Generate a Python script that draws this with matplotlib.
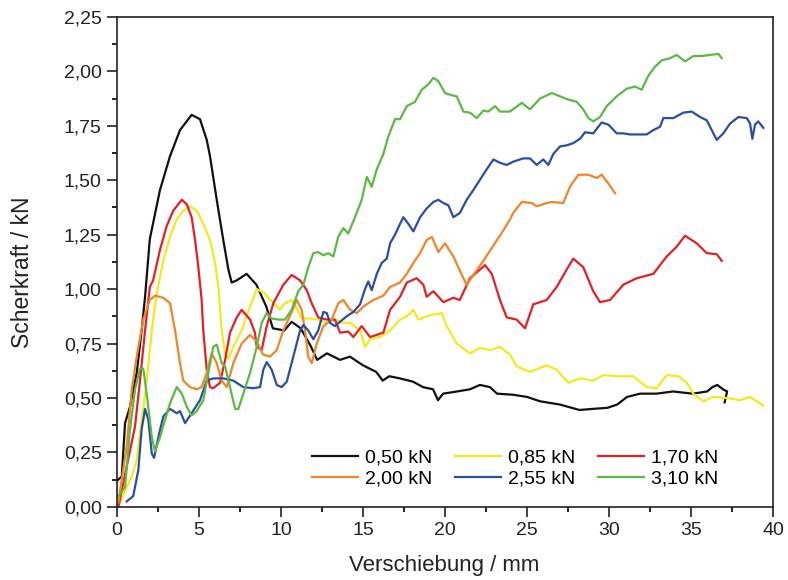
import matplotlib
matplotlib.use("Agg")
import matplotlib.pyplot as plt
from matplotlib.ticker import MultipleLocator, FuncFormatter

plt.rcParams['font.family'] = ['Liberation Sans', 'DejaVu Sans']

# Shear force vs. displacement for six normal loads
x_050 = [0.0, 0.29, 0.49, 0.79, 1.2, 1.5, 1.71, 2.0, 2.62, 3.23, 3.84, 4.55, 5.06, 5.47, 5.67,
         6.08, 6.48, 6.79, 6.99, 7.3, 7.9, 8.5, 9.1, 9.5, 10.2, 10.65, 11.2, 11.8, 12.2, 12.8,
         13.6, 14.2, 15.0, 15.8, 16.2, 16.6, 17.25, 18.05, 18.66, 19.27, 19.57, 19.88, 20.73,
         21.52, 22.13, 22.74, 23.17, 24.15, 25.0, 25.79, 27.0, 28.2, 29.0, 29.9, 30.5, 31.1,
         31.9, 32.9, 33.9, 35.1, 35.98, 36.3, 36.6, 36.95, 37.2, 37.05]
y_050 = [0.12, 0.14, 0.385, 0.46, 0.615, 0.81, 0.965, 1.23, 1.455, 1.61, 1.73, 1.80, 1.78, 1.685,
         1.61, 1.41, 1.225, 1.09, 1.03, 1.04, 1.07, 1.02, 0.92, 0.82, 0.81, 0.85, 0.82, 0.74,
         0.675, 0.705, 0.675, 0.69, 0.65, 0.62, 0.58, 0.60, 0.59, 0.575, 0.55, 0.54, 0.49, 0.52,
         0.53, 0.54, 0.56, 0.55, 0.52, 0.515, 0.505, 0.485, 0.47, 0.445, 0.45, 0.455, 0.47,
         0.505, 0.52, 0.52, 0.53, 0.52, 0.53, 0.55, 0.56, 0.54, 0.53, 0.48]

x_085 = [0.06, 0.59, 0.9, 1.2, 1.81, 2.12, 2.42, 2.82, 3.23, 3.64, 4.04, 4.45, 4.86, 5.26, 5.67,
         5.98, 6.18, 6.38, 6.59, 6.79, 7.09, 7.6, 8.11, 8.52, 9.02, 9.23, 9.63, 9.94, 10.14,
         10.65, 10.96, 11.26, 11.77, 12.27, 12.79, 13.29, 13.8, 14.21, 14.82, 15.12, 15.43,
         16.04, 16.65, 17.26, 17.67, 18.07, 18.37, 18.88, 19.09, 19.8, 20.1, 20.71, 21.52,
         22.13, 22.74, 23.35, 23.96, 24.37, 25.18, 26.2, 26.81, 27.52, 28.23, 29.04, 29.65,
         30.47, 31.48, 32.3, 32.91, 33.52, 34.23, 34.74, 35.14, 35.75, 36.36, 37.18, 37.99,
         38.6, 39.0, 39.41]
y_085 = [0.0, 0.09, 0.14, 0.215, 0.58, 0.81, 0.98, 1.13, 1.24, 1.32, 1.36, 1.38, 1.36, 1.30,
         1.225, 1.12, 1.01, 0.81, 0.705, 0.68, 0.735, 0.81, 0.92, 1.0, 0.98, 0.96, 0.93, 0.905,
         0.93, 0.95, 0.91, 0.865, 0.865, 0.86, 0.845, 0.86, 0.845, 0.845, 0.81, 0.735, 0.77,
         0.78, 0.81, 0.86, 0.875, 0.905, 0.86, 0.875, 0.88, 0.89, 0.83, 0.75, 0.705, 0.73, 0.72,
         0.735, 0.70, 0.645, 0.62, 0.65, 0.63, 0.57, 0.59, 0.58, 0.605, 0.60, 0.60, 0.55, 0.545,
         0.605, 0.60, 0.57, 0.52, 0.485, 0.505, 0.50, 0.49, 0.505, 0.485, 0.465]

x_170 = [0.08, 1.1, 1.4, 1.71, 2.0, 2.2, 2.62, 3.03, 3.43, 3.95, 4.25, 4.55, 4.76, 4.96, 5.16,
         5.26, 5.47, 5.67, 5.87, 6.28, 6.59, 6.89, 7.3, 7.6, 8.11, 8.41, 8.52, 8.82, 9.13, 9.53,
         10.14, 10.65, 11.16, 11.57, 11.87, 12.27, 12.79, 13.29, 13.6, 14.1, 14.41, 14.92,
         15.43, 16.24, 16.65, 17.26, 17.67, 18.27, 18.68, 18.88, 19.29, 19.9, 20.5, 20.9,
         21.52, 22.44, 22.85, 23.35, 23.76, 24.37, 24.88, 25.38, 26.2, 26.81, 27.42, 27.82,
         28.43, 29.04, 29.45, 30.06, 30.87, 31.69, 32.7, 33.52, 34.13, 34.63, 35.35, 35.96,
         36.57, 36.87]
y_170 = [0.0, 0.37, 0.58, 0.81, 1.01, 1.04, 1.18, 1.29, 1.36, 1.41, 1.39, 1.33, 1.225, 1.10,
         0.95, 0.81, 0.63, 0.55, 0.545, 0.57, 0.675, 0.80, 0.87, 0.905, 0.86, 0.80, 0.735, 0.72,
         0.83, 0.935, 1.02, 1.065, 1.04, 0.995, 0.935, 0.87, 0.86, 0.86, 0.80, 0.805, 0.78,
         0.83, 0.78, 0.80, 0.905, 0.965, 1.03, 1.05, 1.02, 0.965, 0.99, 0.94, 0.96, 0.95, 1.05,
         1.11, 1.07, 0.95, 0.87, 0.86, 0.82, 0.93, 0.95, 1.01, 1.09, 1.14, 1.10, 0.99, 0.94,
         0.95, 1.02, 1.05, 1.07, 1.15, 1.195, 1.245, 1.21, 1.165, 1.16, 1.13]

x_200 = [0.08, 0.59, 0.9, 1.2, 1.6, 2.0, 2.32, 2.82, 3.23, 3.54, 3.84, 4.04, 4.45, 4.86, 5.16,
         5.47, 5.77, 6.08, 6.38, 6.69, 7.09, 7.6, 8.11, 8.52, 8.9, 9.33, 9.74, 10.14, 10.65,
         10.96, 11.26, 11.46, 11.66, 11.87, 12.18, 12.58, 13.09, 13.49, 13.8, 14.21, 14.62,
         15.02, 15.63, 16.24, 16.65, 17.26, 17.67, 18.07, 18.48, 18.88, 19.2, 19.59, 20.0,
         20.51, 21.02, 21.32, 21.73, 22.34, 22.95, 23.56, 23.96, 24.16, 24.68, 25.29, 25.59,
         26.2, 26.51, 27.21, 27.62, 28.13, 28.74, 29.25, 29.55, 29.96, 30.37]
y_200 = [0.02, 0.28, 0.54, 0.69, 0.86, 0.95, 0.97, 0.96, 0.935, 0.81, 0.66, 0.58, 0.55, 0.54,
         0.55, 0.615, 0.705, 0.66, 0.58, 0.55, 0.66, 0.75, 0.79, 0.76, 0.70, 0.69, 0.72, 0.81,
         0.895, 0.95, 0.905, 0.81, 0.69, 0.66, 0.75, 0.83, 0.86, 0.935, 0.95, 0.905, 0.89, 0.92,
         0.95, 0.97, 1.01, 1.03, 1.07, 1.12, 1.165, 1.225, 1.24, 1.17, 1.21, 1.15, 1.065, 1.02,
         1.065, 1.13, 1.20, 1.27, 1.32, 1.35, 1.40, 1.395, 1.38, 1.395, 1.40, 1.395, 1.47,
         1.525, 1.525, 1.51, 1.525, 1.485, 1.44]

x_255 = [0.59, 0.99, 1.3, 1.5, 1.71, 1.91, 2.12, 2.26, 2.52, 2.82, 3.23, 3.64, 3.84, 4.15,
         4.55, 5.06, 5.47, 5.87, 6.48, 7.09, 7.7, 8.31, 8.72, 8.92, 9.13, 9.43, 9.74, 10.04,
         10.35, 10.75, 11.16, 11.36, 11.66, 11.97, 12.27, 12.58, 12.79, 12.99, 13.29, 13.6,
         14.0, 14.41, 14.82, 15.12, 15.32, 15.53, 15.84, 16.14, 16.45, 16.65, 16.95, 17.26,
         17.46, 17.76, 18.07, 18.48, 18.88, 19.29, 19.59, 19.9, 20.2, 20.51, 20.91, 21.32,
         21.73, 22.24, 22.54, 22.95, 23.35, 23.76, 24.16, 24.77, 25.18, 25.59, 25.99, 26.3,
         26.6, 27.01, 27.42, 27.82, 28.23, 28.54, 29.04, 29.55, 29.96, 30.47, 30.87, 31.28,
         32.3, 32.7, 33.11, 33.31, 33.92, 34.53, 35.04, 35.55, 35.96, 36.26, 36.57, 36.97,
         37.38, 37.89, 38.4, 38.6, 38.74, 38.9, 39.1, 39.41]
y_255 = [0.025, 0.05, 0.17, 0.355, 0.45, 0.40, 0.245, 0.225, 0.32, 0.415, 0.45, 0.43, 0.44,
         0.385, 0.43, 0.49, 0.58, 0.59, 0.59, 0.58, 0.55, 0.545, 0.55, 0.63, 0.665, 0.63, 0.56,
         0.55, 0.575, 0.69, 0.81, 0.835, 0.81, 0.77, 0.81, 0.895, 0.89, 0.845, 0.83, 0.85,
         0.875, 0.895, 0.93, 1.0, 1.035, 0.995, 1.07, 1.12, 1.14, 1.21, 1.25, 1.30, 1.33, 1.30,
         1.265, 1.33, 1.37, 1.40, 1.41, 1.395, 1.385, 1.33, 1.35, 1.41, 1.455, 1.515, 1.55,
         1.595, 1.58, 1.57, 1.585, 1.60, 1.60, 1.57, 1.595, 1.57, 1.62, 1.655, 1.66, 1.67,
         1.69, 1.72, 1.715, 1.765, 1.755, 1.715, 1.715, 1.71, 1.71, 1.73, 1.745, 1.785, 1.785,
         1.81, 1.815, 1.79, 1.775, 1.73, 1.685, 1.715, 1.76, 1.79, 1.785, 1.76, 1.69, 1.755,
         1.77, 1.74]

x_310 = [0.08, 0.49, 0.79, 1.1, 1.4, 1.6, 1.81, 2.12, 2.32, 2.62, 2.93, 3.23, 3.64, 3.95,
         4.25, 4.55, 4.86, 5.26, 5.57, 5.87, 6.08, 6.38, 6.59, 6.89, 7.2, 7.4, 7.7, 8.11, 8.52,
         8.82, 9.13, 9.43, 9.84, 10.24, 10.65, 11.05, 11.36, 11.66, 11.97, 12.27, 12.58, 12.88,
         13.19, 13.49, 13.8, 14.1, 14.51, 14.92, 15.23, 15.53, 15.84, 16.24, 16.54, 16.95,
         17.26, 17.67, 18.17, 18.58, 18.98, 19.29, 19.59, 20.0, 20.41, 20.71, 21.12, 21.52,
         21.93, 22.34, 22.64, 23.05, 23.35, 23.96, 24.68, 25.18, 25.79, 26.51, 27.01, 27.52,
         28.03, 28.43, 28.74, 29.04, 29.45, 29.86, 30.47, 31.08, 31.59, 31.99, 32.4, 32.8,
         33.21, 33.72, 34.13, 34.63, 35.14, 35.65, 36.16, 36.67, 36.87]
y_310 = [0.05, 0.09, 0.355, 0.54, 0.635, 0.635, 0.52, 0.32, 0.255, 0.32, 0.40, 0.475, 0.55,
         0.52, 0.46, 0.42, 0.44, 0.49, 0.615, 0.735, 0.745, 0.66, 0.645, 0.55, 0.45, 0.45,
         0.52, 0.615, 0.735, 0.845, 0.89, 0.865, 0.86, 0.86, 0.905, 0.99, 1.02, 1.10, 1.165,
         1.17, 1.155, 1.165, 1.15, 1.24, 1.28, 1.255, 1.33, 1.41, 1.515, 1.47, 1.55, 1.62,
         1.70, 1.78, 1.78, 1.84, 1.86, 1.915, 1.94, 1.97, 1.955, 1.90, 1.89, 1.885, 1.815,
         1.81, 1.785, 1.82, 1.815, 1.84, 1.815, 1.815, 1.855, 1.825, 1.875, 1.90, 1.885, 1.87,
         1.86, 1.825, 1.785, 1.77, 1.79, 1.84, 1.885, 1.92, 1.93, 1.915, 1.98, 2.02, 2.05,
         2.06, 2.075, 2.045, 2.07, 2.07, 2.075, 2.08, 2.06]

series = [
    (x_050, y_050, "0,50 kN", "#111111"),
    (x_085, y_085, "0,85 kN", "#f2ea1c"),
    (x_170, y_170, "1,70 kN", "#e41f26"),
    (x_200, y_200, "2,00 kN", "#f0852a"),
    (x_255, y_255, "2,55 kN", "#2b4ea3"),
    (x_310, y_310, "3,10 kN", "#5cb946"),
]

fig = plt.figure(figsize=(7.88, 5.80), dpi=100)
ax = fig.add_axes([0.1485, 0.126, 0.8325, 0.845])

handles = {}
for xs, ys, label, color in series:
    (h,) = ax.plot(xs, ys, color=color, lw=1.6, label=label)
    handles[label] = h

ax.set_xlim(0, 40)
ax.set_ylim(0, 2.25)
ax.xaxis.set_major_locator(MultipleLocator(5))
ax.xaxis.set_minor_locator(MultipleLocator(2.5))
ax.yaxis.set_major_locator(MultipleLocator(0.25))
ax.yaxis.set_minor_locator(MultipleLocator(0.125))
ax.yaxis.set_major_formatter(FuncFormatter(lambda v, p: f"{v:.2f}".replace(".", ",")))
ax.xaxis.set_major_formatter(FuncFormatter(lambda v, p: f"{v:.0f}"))
ax.tick_params(which="major", direction="out", length=7, width=1.2, labelsize=14,
               colors="#222222", pad=4, top=False, right=False)
ax.tick_params(which="minor", direction="out", length=3.6, width=1.2, top=False, right=False)
for s in ax.spines.values():
    s.set_linewidth(1.2)
    s.set_color("#222222")

ax.set_xlabel("Verschiebung / mm", fontsize=16, color="#222222")
ax.set_ylabel("Scherkraft / kN", fontsize=16.5, color="#222222")
ax.xaxis.set_label_coords(0.498, -0.098)
ax.yaxis.set_label_coords(-0.127, 0.478)

order = ["0,50 kN", "2,00 kN", "0,85 kN", "2,55 kN", "1,70 kN", "3,10 kN"]
ax.legend([handles[k] for k in order], order, ncol=3, frameon=False, fontsize=14,
          loc="lower right", bbox_to_anchor=(0.928, 0.024), borderaxespad=0,
          handlelength=2.35, handletextpad=0.35, columnspacing=1.2, labelspacing=0.15)

fig.savefig("out.png", dpi=100)
